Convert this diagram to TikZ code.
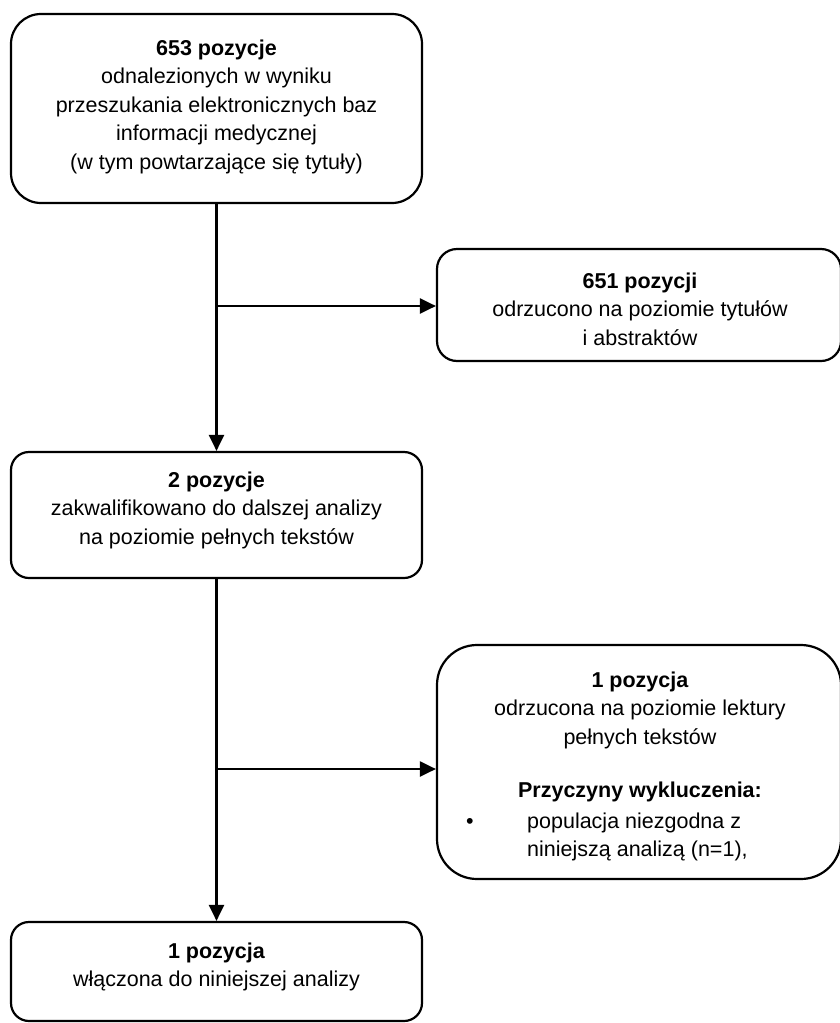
\documentclass[tikz,border=0pt]{standalone}
\usepackage{fontspec}
\setmainfont{Liberation Sans}
\usetikzlibrary{arrows.meta}
\begin{document}
\begin{tikzpicture}[x=1pt,y=-1pt,
  box/.style={draw=black, line width=2.2pt, inner sep=0pt, minimum width=#1},
  txt/.style={font=\fontsize{21.5}{28.5}\selectfont, align=center, inner sep=0pt},
  conn/.style={line width=2.2pt, draw=black},
  arr/.style={conn, -{Triangle[length=16pt,width=15pt]}}]
\useasboundingbox (0,0) rectangle (840,1023);
% boxes
\node[box=411pt, minimum height=189pt, rounded corners=30pt] (b1) at (216.5,108.5) {};
\node[box=404pt, minimum height=112pt, rounded corners=20pt] (b2) at (639,305) {};
\node[box=411pt, minimum height=126pt, rounded corners=18pt] (b3) at (216.5,515) {};
\node[box=404pt, minimum height=234pt, rounded corners=40pt] (b4) at (639,762) {};
\node[box=411pt, minimum height=99pt, rounded corners=18pt] (b5) at (216.5,971.5) {};
% texts
\node[txt] (t1) at (216.5,106.5) {\textbf{653 pozycje}\\odnalezionych w wyniku\\przeszukania elektronicznych baz\\informacji medycznej\\(w tym powtarzające się tytuły)};
\node[txt] (t2) at (640,309) {\textbf{651 pozycji}\\odrzucono na poziomie tytułów\\i abstraktów};
\node[txt] (t3) at (216.5,510) {\textbf{2 pozycje}\\zakwalifikowano do dalszej analizy\\na poziomie pełnych tekstów};
\node[txt] (t4) at (640,710) {\textbf{1 pozycja}\\odrzucona na poziomie lektury\\pełnych tekstów};
\node[txt] (t4b) at (640,792) {\textbf{Przyczyny wykluczenia:}};
\node[txt, anchor=center] (t4d) at (470,823) {•};
\node[txt, align=left, anchor=west] (t4c) at (527,837) {populacja niezgodna z\\niniejszą analizą (n=1),};
\node[txt] (t5) at (216.5,967) {\textbf{1 pozycja}\\włączona do niniejszej analizy};
% connectors
\coordinate (j1) at (216.5,306);
\coordinate (j2) at (216.5,769);
\draw[arr] (b1.south) -- (b3.north);
\draw[arr] (j1) -- (j1 -| b2.west);
\draw[arr] (b3.south) -- (b5.north);
\draw[arr] (j2) -- (j2 -| b4.west);
\end{tikzpicture}
\end{document}
